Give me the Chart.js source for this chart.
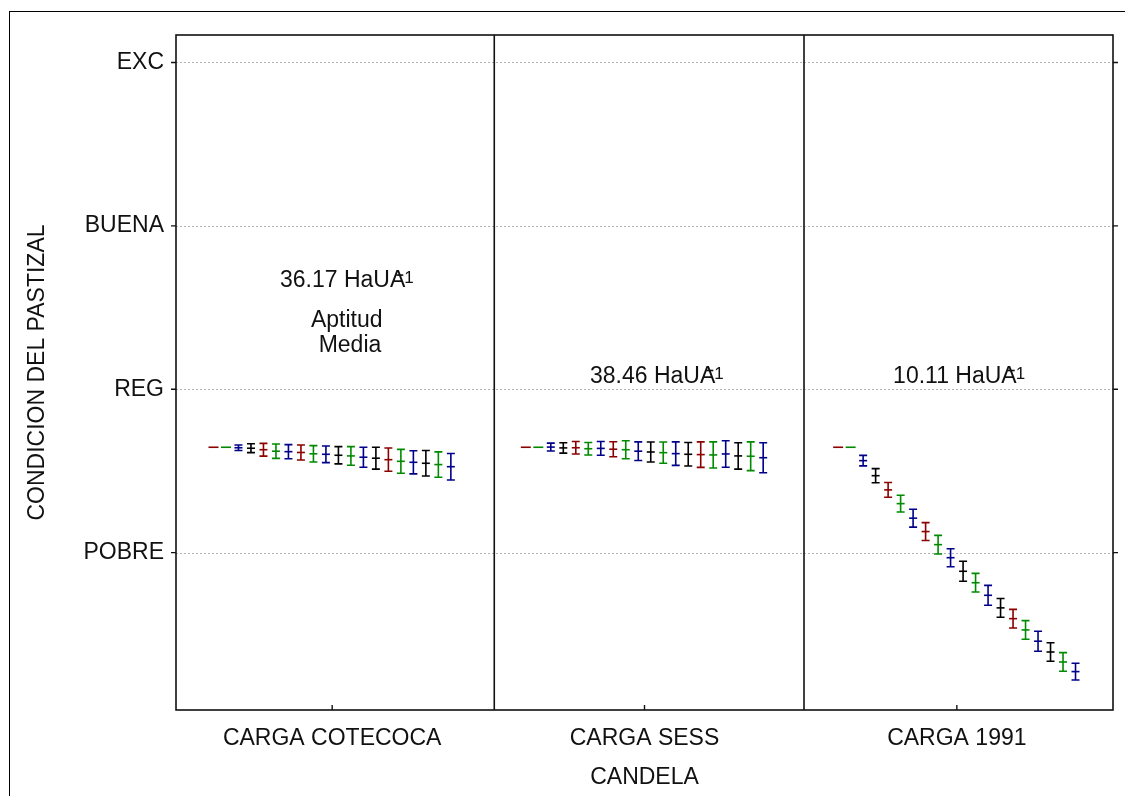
<!DOCTYPE html>
<html><head><meta charset="utf-8">
<script src="https://cdn.jsdelivr.net/npm/chart.js@4/dist/chart.umd.min.js"></script>
<style>html,body{margin:0;padding:0;background:#fff}canvas{display:block}</style>
</head><body>
<canvas id="c" width="1125" height="796"></canvas>
<script>
// ---- data ----
const categories = ['CARGA COTECOCA', 'CARGA SESS', 'CARGA 1991'];
const conditionLabels = ['POBRE', 'REG', 'BUENA', 'EXC'];
const conditionValues = [1, 2, 3, 4];
const xTitle = 'CANDELA';
const yTitle = 'CONDICION DEL PASTIZAL';

const seriesColors = ['#8B0000', '#008A00', '#00008B', '#000000', '#8B0000', '#008A00', '#00008B', '#8B0000', '#008A00', '#00008B',
                      '#000000', '#008A00', '#00008B', '#000000', '#8B0000', '#008A00', '#00008B', '#000000', '#008A00', '#00008B'];

const cotecocaMean = [1.645, 1.645, 1.642, 1.639, 1.630, 1.621, 1.618, 1.613, 1.605, 1.602, 1.596, 1.592, 1.584, 1.578, 1.569, 1.559, 1.553, 1.547, 1.539, 1.526];
const cotecocaErr  = [0, 0, 0.017, 0.027, 0.039, 0.044, 0.043, 0.046, 0.050, 0.051, 0.053, 0.057, 0.061, 0.067, 0.071, 0.073, 0.071, 0.078, 0.078, 0.081];
const sessMean     = [1.645, 1.645, 1.646, 1.641, 1.642, 1.636, 1.638, 1.633, 1.630, 1.621, 1.616, 1.612, 1.606, 1.602, 1.600, 1.598, 1.604, 1.592, 1.590, 1.581];
const sessErr      = [0, 0, 0.024, 0.032, 0.038, 0.038, 0.042, 0.046, 0.055, 0.057, 0.061, 0.065, 0.072, 0.072, 0.078, 0.080, 0.081, 0.081, 0.088, 0.092];
const c1991Mean    = [1.645, 1.645, 1.563, 1.471, 1.384, 1.300, 1.211, 1.129, 1.049, 0.969, 0.886, 0.816, 0.739, 0.662, 0.596, 0.527, 0.458, 0.392, 0.331, 0.272];
const c1991Err     = [0, 0, 0.032, 0.043, 0.045, 0.051, 0.055, 0.055, 0.057, 0.055, 0.061, 0.057, 0.061, 0.057, 0.057, 0.057, 0.061, 0.057, 0.057, 0.051];

const panelMeans = [cotecocaMean, sessMean, c1991Mean];
const panelErrs = [cotecocaErr, sessErr, c1991Err];

const loadTexts = ['36.17 HaUA', '38.46 HaUA', '10.11 HaUA'];
const aptitudTexts = ['Aptitud', 'Media'];

// ---- build datasets ----
const nSeries = seriesColors.length;
const subStep = 0.04;
const datasets = [];
for (let i = 0; i < nSeries; i++) {
  const pts = [], errs = [];
  for (let p = 0; p < categories.length; p++) {
    pts.push({ x: p + 0.5 + (i - (nSeries - 1) / 2) * subStep, y: panelMeans[p][i] });
    errs.push(panelErrs[p][i]);
  }
  datasets.push({
    data: pts,
    errors: errs,
    borderColor: seriesColors[i],
    backgroundColor: seriesColors[i],
    pointStyle: 'line',
    pointRadius: (c) => (c.dataset.errors[c.dataIndex] === 0 ? 5 : 4),
    pointBorderWidth: 1.6,
    pointBorderColor: seriesColors[i],
    showLine: false
  });
}

const FONT = '"Liberation Sans", Arial, sans-serif';
const FS = 23;

const plotPlugin = {
  id: 'plotPlugin',
  beforeDraw(chart) {
    const ctx = chart.ctx;
    ctx.save();
    ctx.fillStyle = '#fff';
    ctx.fillRect(0, 0, chart.width, chart.height);
    ctx.restore();
  },
  beforeDatasetsDraw(chart) {
    const { ctx, chartArea: a, scales: { y } } = chart;
    ctx.save();
    ctx.strokeStyle = '#b4b4b4';
    ctx.lineWidth = 1;
    ctx.setLineDash([2, 2]);
    conditionValues.forEach(v => {
      const py = Math.round(y.getPixelForValue(v)) + 0.5;
      ctx.beginPath(); ctx.moveTo(a.left, py); ctx.lineTo(a.right, py); ctx.stroke();
    });
    ctx.restore();
  },
  afterDatasetsDraw(chart) {
    const { ctx, scales: { x, y } } = chart;
    ctx.save();
    ctx.lineWidth = 1.6;
    chart.data.datasets.forEach(ds => {
      ctx.strokeStyle = ds.borderColor;
      ds.data.forEach((pt, k) => {
        const e = ds.errors[k];
        if (!e) return;
        const px = x.getPixelForValue(pt.x);
        const y1 = y.getPixelForValue(pt.y + e);
        const y2 = y.getPixelForValue(pt.y - e);
        ctx.beginPath();
        ctx.moveTo(px, y1); ctx.lineTo(px, y2);
        ctx.moveTo(px - 4, y1); ctx.lineTo(px + 4, y1);
        ctx.moveTo(px - 4, y2); ctx.lineTo(px + 4, y2);
        ctx.stroke();
      });
    });
    ctx.restore();
  },
  afterDraw(chart) {
    const { ctx, chartArea: a, scales: { x, y } } = chart;
    ctx.save();
    // outer border
    ctx.strokeStyle = '#000';
    ctx.lineWidth = 1;
    ctx.strokeRect(9.5, 11.5, chart.width + 10, chart.height + 10);
    // plot frame
    ctx.lineWidth = 1.6;
    ctx.strokeStyle = '#111';
    ctx.strokeRect(a.left, a.top, a.right - a.left, a.bottom - a.top);
    // panel dividers
    [1.019, 2.0107].forEach(v => {
      const px = x.getPixelForValue(v);
      ctx.beginPath(); ctx.moveTo(px, a.top); ctx.lineTo(px, a.bottom); ctx.stroke();
    });
    // y ticks (outward, both sides)
    ctx.lineWidth = 1.4;
    conditionValues.forEach(v => {
      const py = y.getPixelForValue(v);
      ctx.beginPath();
      ctx.moveTo(a.left - 5, py); ctx.lineTo(a.left, py);
      ctx.moveTo(a.right, py); ctx.lineTo(a.right + 5, py);
      ctx.stroke();
    });
    // x ticks (inward)
    categories.forEach((c, i) => {
      const px = x.getPixelForValue(i + 0.5);
      ctx.beginPath(); ctx.moveTo(px, a.bottom); ctx.lineTo(px, a.bottom - 5); ctx.stroke();
    });
    // annotations
    ctx.fillStyle = '#111';
    const drawLoad = (txt, xv, yv) => {
      const px = x.getPixelForValue(xv), py = y.getPixelForValue(yv);
      ctx.font = FS + 'px ' + FONT;
      ctx.textAlign = 'left';
      ctx.textBaseline = 'alphabetic';
      ctx.fillText(txt, px, py);
      const w = ctx.measureText(txt).width;
      // superscript minus (overlapping the top of the A) and 1
      ctx.fillRect(px + w - 9, py - 13, 7, 1.6);
      ctx.font = '17px ' + FONT;
      ctx.fillText('1', px + w - 1, py - 4);
    };
    drawLoad(loadTexts[0], 0.333, 2.624);
    drawLoad(loadTexts[1], 1.3255, 2.040);
    drawLoad(loadTexts[2], 2.296, 2.040);
    ctx.font = FS + 'px ' + FONT;
    ctx.textAlign = 'center';
    ctx.textBaseline = 'alphabetic';
    ctx.fillText(aptitudTexts[0], x.getPixelForValue(0.5465), y.getPixelForValue(2.379));
    ctx.fillText(aptitudTexts[1], x.getPixelForValue(0.557), y.getPixelForValue(2.230));
    ctx.restore();
  }
};

Chart.defaults.font.family = FONT;
Chart.defaults.color = '#111';

new Chart(document.getElementById('c'), {
  type: 'scatter',
  data: { datasets },
  options: {
    responsive: false,
    animation: false,
    events: [],
    layout: { padding: { top: 35, right: 12, left: 0, bottom: 0 } },
    plugins: { legend: { display: false }, tooltip: { enabled: false } },
    scales: {
      x: {
        type: 'linear', min: 0, max: 3,
        grid: { display: false }, border: { display: false },
        afterBuildTicks: s => { s.ticks = categories.map((c, i) => ({ value: i + 0.5 })); },
        afterFit: s => { s.height = 86; },
        ticks: { font: { size: FS }, padding: 7, maxRotation: 0, autoSkip: false,
                 callback: (v, i) => categories[i] },
        title: { display: true, text: xTitle, font: { size: FS }, padding: { top: 0, bottom: 5 } }
      },
      y: {
        type: 'linear', min: 0.037, max: 4.168,
        grid: { display: false }, border: { display: false },
        afterBuildTicks: s => { s.ticks = conditionValues.map(v => ({ value: v })); },
        afterFit: s => { s.width = 176; },
        ticks: { font: { size: FS }, padding: 4, autoSkip: false,
                 callback: (v) => conditionLabels[conditionValues.indexOf(v)] },
        title: { display: true, text: yTitle, font: { size: FS }, padding: { top: 24, bottom: 0 } }
      }
    }
  },
  plugins: [plotPlugin]
});
</script>
</body></html>
